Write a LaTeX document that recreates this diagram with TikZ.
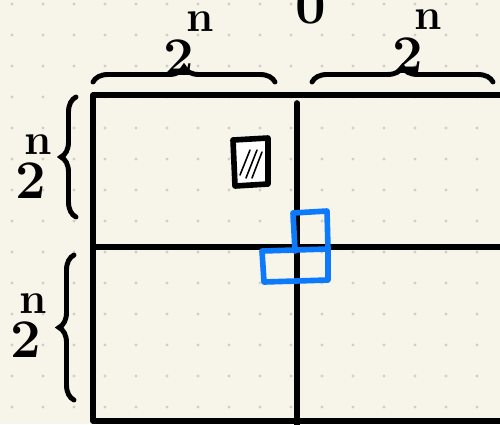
\documentclass[tikz,border=0pt]{standalone}
\usepackage{fontspec}
\usepackage{tikz}
\usetikzlibrary{decorations.pathreplacing}

\definecolor{paper}{RGB}{247,245,234}
\definecolor{dotgray}{RGB}{208,206,198}
\definecolor{penblue}{RGB}{12,122,250}

% 2 with a raised n; #1 = how far the n tucks back over the 2
\newcommand{\twopow}[1]{2\kern#1\raisebox{0.8em}{\fontsize{25}{25}\selectfont n}}

\begin{document}
\begin{tikzpicture}[
  x=0.02cm, y=-0.02cm,
  every node/.style={font=\fontsize{31}{31}\selectfont\bfseries, inner sep=0pt},
  pen/.style={line width=3.2pt, line cap=round, line join=round},
  gridline/.style={pen, draw=black},
  tromino/.style={pen, draw=penblue},
  hatch/.style={line width=0.9pt, line cap=round},
  curly/.style={line width=2.8pt, line cap=round, decorate,
    decoration={brace, amplitude=0.3cm}},
  lbl/.style={anchor=base west}
]

% paper and dots
\fill[paper] (0,0) rectangle (500,424);
\clip (0,0) rectangle (500,424);
\foreach \i in {0,...,15}
  \foreach \j in {0,...,13}
    \fill[dotgray] (12+31*\i, 4+31*\j) circle (1.6);

% the board (runs off the page right and below)
\draw[gridline] (520,95) -- (93,95) -- (93,421) -- (520,421);
\draw[gridline] (297,103) -- (297,440);
\draw[gridline] (93,247) -- (520,247);

% marked cell
\draw[pen, fill=white] (233,140) -- (268,138) -- (268,184) -- (235,186) -- cycle;
\draw[hatch] (240,175) -- (250,150);
\draw[hatch] (246,178) -- (257,150);
\draw[hatch] (252,178) -- (262,152);

% L-tromino in the middle
\draw[tromino] (262,251) -- (328,249) -- (328,280) -- (264,282) -- cycle;
\draw[tromino] (295,251) -- (293,213) -- (327,211) -- (328,249);

% braces
\draw[curly] (93,82) -- (275,82);
\draw[curly] (312,82) -- (493,82);
\draw[curly] (76,217) -- (76,97);
\draw[curly] (74,400) -- (74,255);

% sizes
\node[lbl] (top1) at (163,75) {\twopow{-4pt}};
\node[lbl] (top2) at (392,73) {\twopow{-5pt}};
\node[lbl] (side1) at (15,198) {\twopow{-12pt}};
\node[lbl] (side2) at (10,357) {\twopow{-12pt}};
\node[lbl] (cut) at (295,23) {0};

\end{tikzpicture}
\end{document}
